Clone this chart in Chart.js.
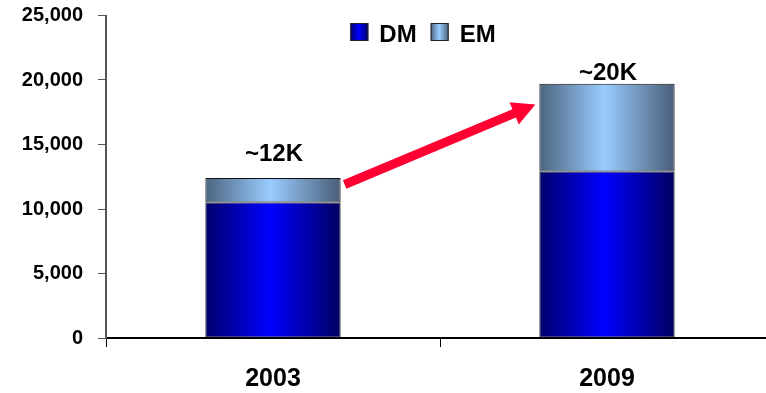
<!DOCTYPE html>
<html>
<head>
<meta charset="utf-8">
<script src="https://cdn.jsdelivr.net/npm/chart.js@4/dist/chart.umd.min.js"></script>
<style>
  html, body { margin: 0; padding: 0; background: #fff; overflow: hidden; }
  #wrap { width: 766px; height: 393px; overflow: hidden; }
</style>
</head>
<body>
<div id="wrap"><canvas id="marketChart" width="776" height="393"></canvas></div>
<script>
const years = ["2003", "2009"];
const dmValues = [10500, 12900];
const emValues = [1900, 6800];
const yTicks = [0, 5000, 10000, 15000, 20000, 25000];
// growth arrow runs between these two levels
const arrowStart = 11900;
const arrowEnd = 18100;

const FONT = '"Liberation Sans", Arial, sans-serif';
const BAR_PCT = 0.405;
const dmStops = ["#00006c", "#0000ff", "#000060"];
const emStops = ["#4d6480", "#99ccff", "#4a5e78"];
const totalGap = [17, 4];

function hGradient(ctx, left, right, stops) {
  const g = ctx.createLinearGradient(left, 0, right, 0);
  g.addColorStop(0, stops[0]);
  g.addColorStop(0.48, stops[1]);
  g.addColorStop(1, stops[2]);
  return g;
}

// gradient across each bar's own width
function barFill(stops) {
  return (c) => {
    const chart = c.chart;
    if (!chart.chartArea || c.type !== "data") return stops[1];
    const x = chart.scales.x;
    const half = (x.width / years.length) * BAR_PCT / 2;
    const cx = x.getPixelForValue(c.dataIndex);
    return hGradient(chart.ctx, cx - half, cx + half, stops);
  };
}

function drawArrow(ctx, x0, y0, x1, y1, shaft, headLen, headHalf, color) {
  const ang = Math.atan2(y1 - y0, x1 - x0);
  const len = Math.hypot(x1 - x0, y1 - y0);
  ctx.save();
  ctx.translate(x0, y0);
  ctx.rotate(ang);
  ctx.fillStyle = color;
  ctx.beginPath();
  ctx.moveTo(0, -shaft / 2);
  ctx.lineTo(len - headLen, -shaft / 2);
  ctx.lineTo(len - headLen, -headHalf);
  ctx.lineTo(len, 0);
  ctx.lineTo(len - headLen, headHalf);
  ctx.lineTo(len - headLen, shaft / 2);
  ctx.lineTo(0, shaft / 2);
  ctx.closePath();
  ctx.fill();
  ctx.restore();
}

const decorations = {
  id: "decorations",
  afterDatasetsDraw(chart) {
    const { ctx, scales: { y } } = chart;
    const bars = chart.getDatasetMeta(1).data;
    ctx.save();

    // approximate totals above the stacks
    ctx.font = "bold 24px " + FONT;
    ctx.fillStyle = "#000";
    ctx.textAlign = "center";
    ctx.textBaseline = "alphabetic";
    bars.forEach((bar, i) => {
      const total = dmValues[i] + emValues[i];
      ctx.fillText("~" + Math.round(total / 1000) + "K", bar.x + 1, y.getPixelForValue(total) - totalGap[i]);
    });

    // red growth arrow from the 2003 stack to the 2009 stack
    const a = bars[0], b = bars[1];
    drawArrow(ctx,
      a.x + a.width / 2 + 4, y.getPixelForValue(arrowStart),
      b.x - b.width / 2 - 4, y.getPixelForValue(arrowEnd),
      9, 23, 12, "#ff0033");

    // legend inside the plot
    ctx.font = "bold 24px " + FONT;
    ctx.textAlign = "left";
    const box = 18, gap = 11, itemGap = 14;
    const items = chart.data.datasets.map(ds => ({ label: ds.label, stops: ds.swatch, w: ctx.measureText(ds.label).width }));
    const totalW = items.reduce((s, it) => s + box + gap + it.w, 0) + itemGap * (items.length - 1);
    const area = chart.chartArea;
    let lx = (area.left + area.right) / 2 - totalW / 2 - 17;
    const ly = 23;
    items.forEach(it => {
      ctx.fillStyle = hGradient(ctx, lx, lx + box, it.stops);
      ctx.fillRect(lx, ly, box, box);
      ctx.strokeStyle = "#222";
      ctx.lineWidth = 1;
      ctx.strokeRect(lx + 0.5, ly + 0.5, box - 1, box - 1);
      ctx.fillStyle = "#000";
      ctx.fillText(it.label, lx + box + gap, ly + 19);
      lx += box + gap + it.w + itemGap;
    });
    ctx.restore();
  }
};

new Chart(document.getElementById("marketChart"), {
  type: "bar",
  data: {
    labels: years,
    datasets: [
      {
        label: "DM",
        data: dmValues,
        swatch: dmStops,
        backgroundColor: barFill(dmStops),
        borderColor: "#111",
        borderWidth: 1,
        borderSkipped: false,
      },
      {
        label: "EM",
        data: emValues,
        swatch: emStops,
        backgroundColor: barFill(emStops),
        borderColor: "#111",
        borderWidth: 1,
        borderSkipped: false,
      },
    ],
  },
  options: {
    responsive: false,
    animation: false,
    layout: { padding: { top: 15.5, right: 2, left: 0, bottom: 0 } },
    datasets: { bar: { categoryPercentage: 1, barPercentage: BAR_PCT } },
    plugins: {
      legend: { display: false },
      tooltip: { enabled: false },
    },
    scales: {
      x: {
        stacked: true,
        afterFit: (s) => { s.height = 55; },
        border: { color: "#000", width: 2 },
        grid: { drawOnChartArea: false, offset: true, tickLength: 9, color: "#000", lineWidth: 1 },
        ticks: { color: "#000", padding: 17, font: { family: FONT, size: 25, weight: "bold" } },
      },
      y: {
        stacked: true,
        min: 0,
        max: 25000,
        // fixed axis width; top spacing comes from the layout padding only
        afterFit: (s) => { s.width = 106; s.paddingTop = 0; },
        afterBuildTicks: (s) => { s.ticks = yTicks.map(v => ({ value: v })); },
        border: { color: "#555", width: 2 },
        grid: { drawOnChartArea: false, tickLength: 8, color: "#555", lineWidth: 1 },
        ticks: {
          color: "#000",
          padding: 15,
          font: { family: FONT, size: 20, weight: "bold" },
          callback: (v) => Number(v).toLocaleString("en-US"),
        },
      },
    },
  },
  plugins: [decorations],
});
</script>
</body>
</html>
